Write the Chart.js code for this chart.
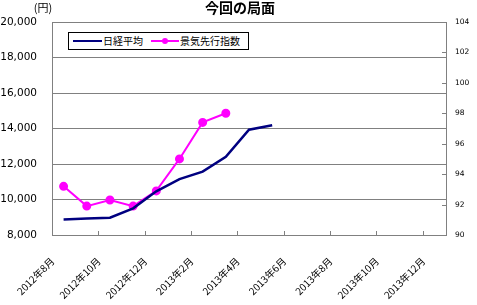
<!DOCTYPE html>
<html>
<head>
<meta charset="utf-8">
<script src="https://cdn.jsdelivr.net/npm/chart.js@4"></script>
<style>
  body { margin: 0; background: #fff; }
  #wrap { position: relative; width: 477px; height: 305px; }
  #legend {
    position: absolute; left: 68px; top: 32px; width: 179px; height: 16px;
    border: 1px solid #000; background: #fff;
    font: 10px "Noto Sans CJK JP", sans-serif; color: #000;
  }
  #legend .item { position: absolute; top: 0; height: 16px; line-height: 16px; }
  #legend .line { position: absolute; top: 7px; height: 2px; }
  #legend .dot { position: absolute; top: 5px; width: 6px; height: 6px; border-radius: 50%; background: #ff00ff; }
</style>
</head>
<body>
<div id="wrap">
  <canvas id="myChart" width="477" height="305"></canvas>
  <div id="legend">
    <div class="line" style="left:4px;width:29px;background:#000080"></div>
    <div class="item" style="left:34px">日経平均</div>
    <div class="line" style="left:82px;width:28px;background:#ff00ff"></div>
    <div class="dot" style="left:93px"></div>
    <div class="item" style="left:111px">景気先行指数</div>
  </div>
</div>
<script>
const CHART_TITLE = '今回の局面';
const UNIT_LABEL = '(円)';
const LINE_BLUE = '#000080';
const LINE_PINK = '#ff00ff';
const GRID_GRAY = '#808080';
const FONT_JP = '"Noto Sans CJK JP", sans-serif';

const MONTHS = ['2012年8月', '2012年9月', '2012年10月', '2012年11月', '2012年12月', '2013年1月',
  '2013年2月', '2013年3月', '2013年4月', '2013年5月', '2013年6月', '2013年7月',
  '2013年8月', '2013年9月', '2013年10月', '2013年11月', '2013年12月'];
const NIKKEI = [8880, 8930, 8970, 9500, 10460, 11150, 11570, 12410, 13930, 14180,
  null, null, null, null, null, null, null];
const LEADING_INDEX = [93.2, 91.9, 92.3, 91.9, 92.9, 95.0, 97.4, 98.0,
  null, null, null, null, null, null, null, null, null];
const YEN_MIN = 8000;
const YEN_MAX = 20000;
const YEN_STEP = 2000;
const INDEX_MIN = 90;
const INDEX_MAX = 104;
const INDEX_STEP = 2;

// title, unit label and the small inward tick marks
const extrasPlugin = {
  id: 'extras',
  afterDraw(chart) {
    const ctx = chart.ctx;
    const area = chart.chartArea;
    const x = chart.scales.x;
    const y1 = chart.scales.y1;
    ctx.save();
    ctx.fillStyle = '#000';
    ctx.textBaseline = 'middle';
    ctx.textAlign = 'center';
    ctx.font = 'bold 14px ' + FONT_JP;
    ctx.fillText(CHART_TITLE, 240, 8);
    ctx.font = '11px ' + FONT_JP;
    ctx.fillText(UNIT_LABEL, 43, 8);

    ctx.strokeStyle = GRID_GRAY;
    ctx.lineWidth = 1;
    ctx.beginPath();
    for (let i = 2; i < MONTHS.length; i += 2) {
      const px = Math.round((x.getPixelForValue(i - 1) + x.getPixelForValue(i)) / 2) + 0.5;
      ctx.moveTo(px, area.bottom);
      ctx.lineTo(px, area.bottom - 4);
    }
    for (let v = INDEX_MIN + INDEX_STEP; v < INDEX_MAX; v += INDEX_STEP) {
      const py = Math.round(y1.getPixelForValue(v)) + 0.5;
      ctx.moveTo(area.right, py);
      ctx.lineTo(area.right - 4, py);
    }
    ctx.stroke();
    ctx.restore();
  }
};

function formatYen(value) {
  return value.toLocaleString('en-US');
}

function createChart() {
  const config = {
    type: 'line',
    data: {
      labels: MONTHS,
      datasets: [
        {
          label: '日経平均',
          data: NIKKEI,
          yAxisID: 'y',
          borderColor: LINE_BLUE,
          backgroundColor: LINE_BLUE,
          borderWidth: 2.5,
          pointRadius: 0,
          tension: 0,
        },
        {
          label: '景気先行指数',
          data: LEADING_INDEX,
          yAxisID: 'y1',
          borderColor: LINE_PINK,
          backgroundColor: LINE_PINK,
          borderWidth: 2,
          pointRadius: 3.5,
          pointStyle: 'circle',
          tension: 0,
        },
      ],
    },
    options: {
      responsive: false,
      animation: false,
      devicePixelRatio: 1,
      layout: { padding: { top: 22, left: 0, right: 0, bottom: 0 } },
      plugins: {
        legend: { display: false },
        title: { display: false },
        tooltip: { enabled: false },
      },
      scales: {
        x: {
          type: 'category',
          offset: true,
          grid: { display: true, drawOnChartArea: false, drawTicks: false },
          border: { display: true, color: GRID_GRAY, width: 1 },
          ticks: {
            autoSkip: false,
            maxRotation: 45,
            minRotation: 45,
            padding: 20,
            labelOffset: -11,
            color: '#000',
            font: { family: FONT_JP, size: 10 },
            callback: function (value, index) {
              return index % 2 === 0 ? MONTHS[index] : '';
            },
          },
          afterFit(scale) { scale.height = 70; },
        },
        y: {
          position: 'left',
          min: YEN_MIN,
          max: YEN_MAX,
          grid: { color: GRID_GRAY, lineWidth: 1, drawTicks: false },
          border: { display: true, color: GRID_GRAY, width: 1 },
          ticks: {
            stepSize: YEN_STEP,
            padding: 15,
            color: '#000',
            font: { family: 'DejaVu Sans', size: 10.5 },
            callback: (v) => formatYen(v),
          },
          afterFit(scale) { scale.width = 52; },
        },
        y1: {
          position: 'right',
          min: INDEX_MIN,
          max: INDEX_MAX,
          grid: { drawOnChartArea: false, drawTicks: false },
          border: { display: true, color: GRID_GRAY, width: 1 },
          ticks: {
            stepSize: INDEX_STEP,
            padding: 9,
            color: '#000',
            font: { family: 'DejaVu Sans', size: 7.5 },
          },
          afterFit(scale) { scale.width = 31; },
        },
      },
    },
    plugins: [extrasPlugin],
  };
  return new Chart(document.querySelector('#myChart'), config);
}

createChart();
</script>
</body>
</html>
